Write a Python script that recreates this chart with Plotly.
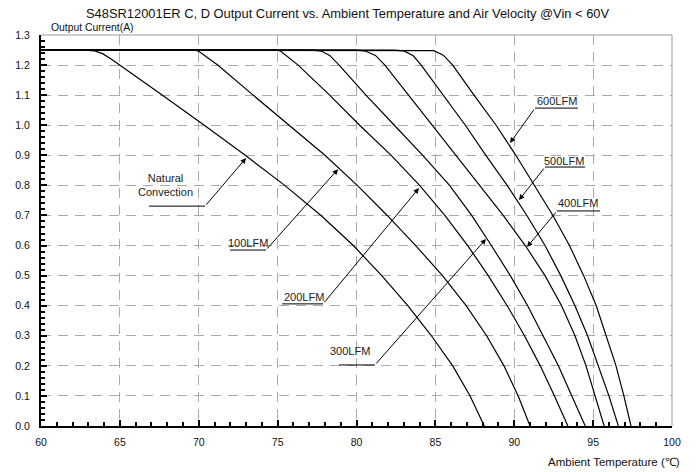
import plotly.graph_objects as go

# Derating curves: ambient temperature (deg C) vs. output current (A)
nc_t = [60, 62.8, 63.4, 63.9, 64.4, 65.0, 67.7, 70.35, 72.95, 75.45, 77.75, 79.8, 81.6, 83.25, 84.75, 86.1, 87.2, 88.1]
nc_i = [1.25, 1.25, 1.247, 1.238, 1.222, 1.2, 1.1, 1.0, 0.9, 0.8, 0.7, 0.6, 0.5, 0.4, 0.3, 0.2, 0.1, 0.0]

lfm100_t = [60, 69.7, 70.0, 70.5, 71.2, 73.45, 75.75, 78.0, 80.05, 81.95, 83.75, 85.45, 86.95, 88.25, 89.35, 90.25, 91.0]
lfm100_i = [1.25, 1.25, 1.246, 1.228, 1.2, 1.1, 1.0, 0.9, 0.8, 0.7, 0.6, 0.5, 0.4, 0.3, 0.2, 0.1, 0.0]

lfm200_t = [60, 74.9, 75.2, 75.7, 76.3, 78.3, 80.2, 82.2, 84.0, 85.6, 87.05, 88.35, 89.55, 90.65, 91.65, 92.55, 93.4]
lfm200_i = [1.25, 1.25, 1.246, 1.226, 1.2, 1.1, 1.0, 0.9, 0.8, 0.7, 0.6, 0.5, 0.4, 0.3, 0.2, 0.1, 0.0]

lfm300_t = [60, 77.2, 77.8, 78.3, 78.9, 80.6, 82.4, 84.2, 85.9, 87.3, 88.55, 89.75, 90.85, 91.85, 92.8, 93.65, 94.5]
lfm300_i = [1.25, 1.25, 1.246, 1.232, 1.2, 1.1, 1.0, 0.9, 0.8, 0.7, 0.6, 0.5, 0.4, 0.3, 0.2, 0.1, 0.0]

lfm400_t = [60, 80.0, 80.6, 81.2, 81.8, 83.3, 84.85, 86.35, 87.85, 89.3, 90.7, 91.95, 93.0, 93.85, 94.55, 95.15, 95.7]
lfm400_i = [1.25, 1.25, 1.246, 1.232, 1.2, 1.1, 1.0, 0.9, 0.8, 0.7, 0.6, 0.5, 0.4, 0.3, 0.2, 0.1, 0.0]

lfm500_t = [60, 82.4, 83.0, 83.6, 84.1, 85.5, 86.9, 88.2, 89.55, 90.8, 91.95, 92.95, 93.85, 94.65, 95.35, 96.0, 96.6]
lfm500_i = [1.25, 1.25, 1.247, 1.231, 1.2, 1.1, 1.0, 0.9, 0.8, 0.7, 0.6, 0.5, 0.4, 0.3, 0.2, 0.1, 0.0]

lfm600_t = [60, 84.3, 84.9, 85.5, 86.1, 87.45, 88.85, 90.1, 91.3, 92.45, 93.5, 94.4, 95.2, 95.85, 96.45, 96.95, 97.4]
lfm600_i = [1.25, 1.25, 1.248, 1.233, 1.2, 1.1, 1.0, 0.9, 0.8, 0.7, 0.6, 0.5, 0.4, 0.3, 0.2, 0.1, 0.0]

curves = [
    ("Natural Convection", nc_t, nc_i),
    ("100LFM", lfm100_t, lfm100_i),
    ("200LFM", lfm200_t, lfm200_i),
    ("300LFM", lfm300_t, lfm300_i),
    ("400LFM", lfm400_t, lfm400_i),
    ("500LFM", lfm500_t, lfm500_i),
    ("600LFM", lfm600_t, lfm600_i),
]

# Callout labels: text position, underline span/height, arrow tip
label_text = ["Natural<br>Convection", "100LFM", "200LFM", "300LFM", "400LFM", "500LFM", "600LFM"]
label_x = [67.92, 73.12, 76.67, 79.59, 94.04, 93.15, 92.71]
label_y = [0.80, 0.607, 0.428, 0.251, 0.740, 0.880, 1.079]
line_x0 = [66.85, 71.98, 75.28, 78.89, 95.44, 94.49, 94.04]
line_x1 = [70.40, 74.26, 77.88, 81.17, 92.71, 91.95, 91.32]
line_y = [0.731, 0.585, 0.406, 0.203, 0.715, 0.861, 1.057]
tip_x = [73.0, 78.83, 83.96, 88.21, 90.81, 90.30, 89.73]
tip_y = [0.891, 0.854, 0.791, 0.622, 0.595, 0.751, 0.941]

FONT = "Liberation Sans, Arial, sans-serif"

fig = go.Figure()
for name, t, i in curves:
    fig.add_trace(go.Scatter(x=t, y=i, mode="lines", name=name,
                             line=dict(color="black", width=1.2),
                             showlegend=False, hoverinfo="skip"))

shapes = []
annotations = []
for k in range(len(label_text)):
    # underline under the label
    shapes.append(dict(type="line", xref="x", yref="y",
                       x0=line_x0[k], x1=line_x1[k], y0=line_y[k], y1=line_y[k],
                       line=dict(color="black", width=1)))
    # leader with arrowhead from underline end to the curve
    annotations.append(dict(x=tip_x[k], y=tip_y[k], ax=line_x1[k], ay=line_y[k],
                            xref="x", yref="y", axref="x", ayref="y", text="",
                            showarrow=True, arrowhead=2, arrowsize=1.1, arrowwidth=1,
                            arrowcolor="black", standoff=0))
    annotations.append(dict(x=label_x[k], y=label_y[k], xref="x", yref="y",
                            text=label_text[k], showarrow=False,
                            font=dict(family=FONT, size=11, color="#222")))

# light border on the top and right edges of the plot area
shapes.append(dict(type="line", xref="paper", yref="paper", x0=0, x1=1, y0=1, y1=1,
                   line=dict(color="#999", width=1)))
shapes.append(dict(type="line", xref="paper", yref="paper", x0=1, x1=1, y0=0, y1=1,
                   line=dict(color="#999", width=1)))

annotations.append(dict(x=0.486, y=1.0, xref="paper", yref="paper", yanchor="middle",
                        yshift=22, text="S48SR12001ER C, D Output Current vs. Ambient Temperature and Air Velocity @Vin < 60V",
                        showarrow=False, font=dict(family=FONT, size=12.9, color="#111")))
annotations.append(dict(x=0, y=1.0, xref="paper", yref="paper", xanchor="left", yanchor="middle",
                        xshift=8, yshift=8, text="Output Current(A)",
                        showarrow=False, font=dict(family=FONT, size=10.4, color="#111")))
annotations.append(dict(x=1, y=0, xref="paper", yref="paper", xanchor="right", yanchor="middle",
                        xshift=10, yshift=-36, text="Ambient Temperature (℃)",
                        showarrow=False, font=dict(family=FONT, size=11.5, color="#111")))

fig.update_layout(
    width=699, height=472,
    margin=dict(l=41, r=27, t=35, b=46),
    plot_bgcolor="white", paper_bgcolor="white",
    shapes=shapes, annotations=annotations,
    font=dict(family=FONT, size=11, color="#111"),
)
fig.update_xaxes(range=[60, 100], dtick=5, tick0=60, showgrid=True, gridcolor="#aaa",
                 griddash="10px,7px", gridwidth=1, showline=True, linecolor="black", linewidth=2,
                 ticks="inside", ticklen=6, tickcolor="black", tickwidth=1.5, zeroline=False,
                 minor=dict(dtick=1, ticks="inside", ticklen=4, tickcolor="black", showgrid=False),
                 ticklabelstandoff=5, tickfont=dict(size=10.5))
fig.update_yaxes(range=[0, 1.3], dtick=0.1, tick0=0, tickformat=".1f", showgrid=True, gridcolor="#aaa",
                 griddash="10px,7px", gridwidth=1, showline=True, linecolor="black", linewidth=2,
                 ticks="inside", ticklen=6, tickcolor="black", tickwidth=1.5, zeroline=False,
                 minor=dict(dtick=0.02, ticks="inside", ticklen=4, tickcolor="black", showgrid=False),
                 ticklabelstandoff=7, tickfont=dict(size=10.5))

fig.write_html("out.html")
